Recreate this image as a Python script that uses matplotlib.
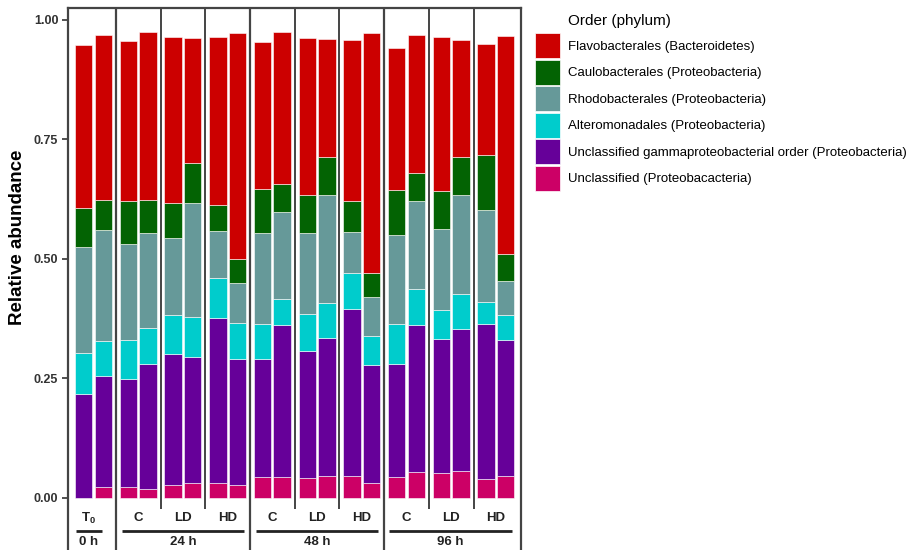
import numpy as np
import matplotlib
matplotlib.use("Agg")
import matplotlib.pyplot as plt
from matplotlib.patches import Patch

plt.rcParams['font.family'] = 'Liberation Sans'
plt.rcParams['mathtext.fontset'] = 'custom'
plt.rcParams['mathtext.bf'] = 'Liberation Sans:bold'
plt.rcParams['mathtext.rm'] = 'Liberation Sans'

# ordens (de cima para baixo na legenda)
ordens = ['Flavobacterales (Bacteroidetes)',
          'Caulobacterales (Proteobacteria)',
          'Rhodobacterales (Proteobacteria)',
          'Alteromonadales (Proteobacteria)',
          'Unclassified gammaproteobacterial order (Proteobacteria)',
          'Unclassified (Proteobacacteria)']
cores = ['#CC0000', '#036303', '#669999', '#00CCCC', '#660099', '#CC0066']

# abundancia relativa, duas replicas por tratamento
# T0 | 24h C LD HD | 48h C LD HD | 96h C LD HD
flavo = [0.342, 0.346, 0.336, 0.350, 0.348, 0.262, 0.353, 0.472, 0.309, 0.319,
         0.330, 0.248, 0.338, 0.501, 0.296, 0.289, 0.322, 0.245, 0.232, 0.456]
caulo = [0.080, 0.063, 0.089, 0.070, 0.074, 0.083, 0.054, 0.051, 0.092, 0.057,
         0.079, 0.080, 0.064, 0.050, 0.094, 0.058, 0.080, 0.079, 0.115, 0.056]
rhodo = [0.223, 0.232, 0.201, 0.198, 0.160, 0.238, 0.098, 0.083, 0.189, 0.182,
         0.170, 0.226, 0.087, 0.082, 0.186, 0.185, 0.169, 0.207, 0.191, 0.072]
altero = [0.085, 0.073, 0.083, 0.076, 0.082, 0.085, 0.083, 0.076, 0.075, 0.056,
          0.076, 0.072, 0.075, 0.060, 0.084, 0.076, 0.060, 0.074, 0.046, 0.053]
gamma = [0.218, 0.233, 0.225, 0.261, 0.274, 0.263, 0.345, 0.263, 0.246, 0.318,
         0.266, 0.288, 0.348, 0.248, 0.237, 0.306, 0.281, 0.296, 0.325, 0.283]
unclass = [0.000, 0.022, 0.023, 0.019, 0.027, 0.031, 0.032, 0.027, 0.044, 0.043,
           0.042, 0.047, 0.047, 0.031, 0.044, 0.055, 0.052, 0.057, 0.040, 0.047]

tratamentos = [r'$\mathbf{T_0}$', 'C', 'LD', 'HD', 'C', 'LD', 'HD', 'C', 'LD', 'HD']
tempos = ['0 h', '24 h', '48 h', '96 h']

series = [flavo, caulo, rhodo, altero, gamma, unclass]

fig = plt.figure(figsize=(9.19, 5.5), dpi=100)
W, H = 919, 550
ax = fig.add_axes([68 / W, 0, (521 - 68) / W, (550 - 8) / H])

# posicoes das barras: pares em torno de cada tratamento
n = len(tratamentos)
xpar = np.arange(n)
xs = np.ravel(np.column_stack([xpar - 0.218, xpar + 0.218]))

base = np.zeros(len(xs))
for nome, cor, vals in zip(ordens[::-1], cores[::-1], series[::-1]):
    v = np.array(vals)
    ax.bar(xs, v, bottom=base, width=0.39, color=cor, edgecolor='white',
           linewidth=0.4, label=nome)
    base += v

ax.set_xlim(-0.57, 9.56)
ax.set_ylim(-0.1088, 1.0251)
ax.set_yticks([0, 0.25, 0.5, 0.75, 1.0])
ax.set_yticklabels(['0.00', '0.25', '0.50', '0.75', '1.00'])
ax.tick_params(axis='y', length=4, width=1.2, color='#333333', pad=3,
               labelsize=9, labelcolor='#333333')
for lab in ax.get_yticklabels():
    lab.set_fontweight('bold')
ax.set_xticks([])
ax.spines['bottom'].set_visible(False)
for s in ['left', 'right', 'top']:
    ax.spines[s].set_linewidth(1.6)
    ax.spines[s].set_color('#444444')

# separadores dos tempos (altura total) e dos tratamentos
for xv in [0.5, 3.5, 6.5]:
    ax.plot([xv, xv], [-0.1088, 1.0251], color='#444444', lw=1.6,
            clip_on=False, solid_capstyle='butt')
for xv in [1.5, 2.5, 4.5, 5.5, 7.5, 8.5]:
    ax.plot([xv, xv], [-0.023, 1.0251], color='#444444', lw=1.4,
            solid_capstyle='butt')

# rotulos dos tratamentos
for i, t in enumerate(tratamentos):
    xi = i - 0.1 if i == 0 else i
    ax.text(xi, -0.0425, t, ha='center', va='center', fontsize=9.5,
            fontweight='bold', color='#222222')

# linhas e rotulos dos tempos
spans = [(-0.39, 0.18), (0.63, 3.37), (3.64, 6.36), (6.61, 9.36)]
for (a, b), tp in zip(spans, tempos):
    ax.plot([a, b], [-0.0684, -0.0684], color='#222222', lw=2.0,
            solid_capstyle='butt')
    ax.text((a + b) / 2, -0.0914, tp, ha='center', va='center', fontsize=9.5,
            fontweight='bold', color='#222222')

fig.text(18 / W, 1 - 237 / H, 'Relative abundance', rotation=90,
         ha='center', va='center', fontsize=13.5, fontweight='bold')

# legenda
handles = [Patch(facecolor=c, edgecolor='white', linewidth=0.5) for c in cores]
fig.legend(handles, ordens, loc='upper left',
           bbox_to_anchor=(535 / W, 1 - 33 / H), frameon=False,
           fontsize=9.5, handlelength=1.9, handleheight=2.54,
           labelspacing=0.114, handletextpad=0.6, borderpad=0,
           borderaxespad=0)
fig.text(568 / W, 1 - 21 / H, 'Order (phylum)', ha='left', va='center',
         fontsize=11)

fig.savefig('out.png', dpi=100)
